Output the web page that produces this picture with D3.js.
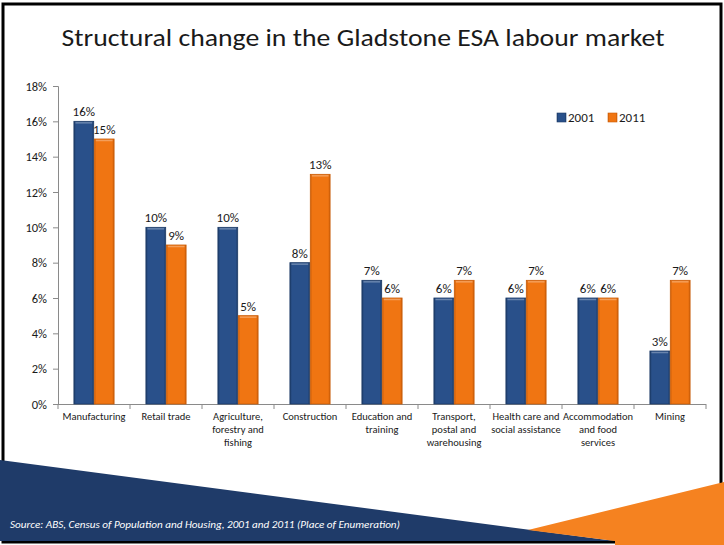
<!DOCTYPE html>
<html>
<head>
<meta charset="utf-8">
<script src="https://cdn.jsdelivr.net/npm/d3@7"></script>
<style>
  html, body { margin: 0; padding: 0; background: #fff; }
  svg { display: block; font-family: Carlito, Calibri, Lato, "Open Sans", sans-serif; }
</style>
</head>
<body>
<svg id="chart" width="724" height="545"></svg>
<script>
// Employment share by industry, Gladstone ESA
const categories = [
  ["Manufacturing"],
  ["Retail trade"],
  ["Agriculture,", "forestry and", "fishing"],
  ["Construction"],
  ["Education and", "training"],
  ["Transport,", "postal and", "warehousing"],
  ["Health care and", "social assistance"],
  ["Accommodation", "and food", "services"],
  ["Mining"]
];
const seriesNames = ["2001", "2011"];
const values2001 = [16, 10, 10, 8, 7, 6, 6, 6, 3];
const values2011 = [15, 9, 5, 13, 6, 7, 7, 6, 7];
const yTicks = [0, 2, 4, 6, 8, 10, 12, 14, 16, 18];

const svg = d3.select("#chart");
const W = 724, H = 545;

const colors = { "2001": "#29508a", "2011": "#f07512" };
const edges  = { "2001": "#1c3a66", "2011": "#c95c08" };

// gradients give the bars their bevelled look
const defs = svg.append("defs");
seriesNames.forEach(s => {
  const g = defs.append("linearGradient").attr("id", "g" + s)
    .attr("x1", 0).attr("x2", 1).attr("y1", 0).attr("y2", 0);
  g.append("stop").attr("offset", 0).attr("stop-color", edges[s]);
  g.append("stop").attr("offset", 0.1).attr("stop-color", colors[s]);
  g.append("stop").attr("offset", 0.9).attr("stop-color", colors[s]);
  g.append("stop").attr("offset", 1).attr("stop-color", edges[s]);
});

// slide background and frame
svg.append("rect").attr("width", W).attr("height", H).attr("fill", "#fff");
svg.append("rect").attr("x", 3).attr("y", 4).attr("width", 718).attr("height", 538)
  .attr("fill", "none").attr("stroke", "#000").attr("stroke-width", 3);

// title
svg.append("text").attr("x", 363).attr("y", 46)
  .attr("text-anchor", "middle").attr("font-size", 25).attr("fill", "#1a1a1a")
  .attr("textLength", 603).attr("lengthAdjust", "spacingAndGlyphs")
  .text("Structural change in the Gladstone ESA labour market");

// plot area
const m = { left: 58, right: 706, top: 86, bottom: 404 };
const x = d3.scaleBand().domain(d3.range(categories.length))
  .range([m.left, m.right]).paddingInner(0).paddingOuter(0);
const xs = d3.scaleBand().domain(seriesNames).range([0, x.bandwidth()])
  .paddingInner(0.03).paddingOuter(0.78);
const y = d3.scaleLinear().domain([0, 18]).range([m.bottom, m.top]);

// y axis
const yAxis = svg.append("g").attr("transform", `translate(${m.left},0)`)
  .call(d3.axisLeft(y).tickValues(yTicks).tickFormat(d => d + "%").tickSize(5).tickPadding(6));
yAxis.select(".domain").attr("stroke", "#8a8a8a");
yAxis.selectAll(".tick line").attr("stroke", "#8a8a8a");
yAxis.selectAll(".tick text").attr("font-size", 12.5).attr("fill", "#1a1a1a")
  .attr("font-family", "Carlito, Calibri, Lato, sans-serif");

// x axis with ticks at category boundaries
const xAxisG = svg.append("g");
xAxisG.append("line").attr("x1", m.left).attr("x2", m.right)
  .attr("y1", m.bottom + 0.5).attr("y2", m.bottom + 0.5).attr("stroke", "#8a8a8a");
xAxisG.selectAll("line.tk").data(d3.range(categories.length + 1)).join("line")
  .attr("class", "tk")
  .attr("x1", i => i < categories.length ? x(i) : m.right)
  .attr("x2", i => i < categories.length ? x(i) : m.right)
  .attr("y1", m.bottom).attr("y2", m.bottom + 5).attr("stroke", "#8a8a8a");

// category labels
const catG = svg.append("g");
categories.forEach((lines, i) => {
  const t = catG.append("text").attr("text-anchor", "middle")
    .attr("font-size", 10.5).attr("fill", "#1a1a1a");
  lines.forEach((ln, j) => {
    t.append("tspan").attr("x", x(i) + x.bandwidth() / 2)
      .attr("y", 420 + j * 13).text(ln);
  });
});

// bars
const rows = [];
categories.forEach((c, i) => {
  rows.push({ i, s: "2001", v: values2001[i] });
  rows.push({ i, s: "2011", v: values2011[i] });
});
const barG = svg.append("g");
barG.selectAll("rect").data(rows).join("rect")
  .attr("x", d => x(d.i) + xs(d.s))
  .attr("y", d => y(d.v))
  .attr("width", xs.bandwidth())
  .attr("height", d => y(0) - y(d.v))
  .attr("fill", d => `url(#g${d.s})`)
  .attr("stroke", d => edges[d.s]).attr("stroke-width", 0.8);
// top highlight
barG.selectAll("line").data(rows).join("line")
  .attr("x1", d => x(d.i) + xs(d.s) + 1.5)
  .attr("x2", d => x(d.i) + xs(d.s) + xs.bandwidth() - 1.5)
  .attr("y1", d => y(d.v) + 1.5).attr("y2", d => y(d.v) + 1.5)
  .attr("stroke", "#fff").attr("stroke-opacity", 0.3).attr("stroke-width", 1.5);

// value labels
svg.append("g").selectAll("text").data(rows).join("text")
  .attr("x", d => x(d.i) + xs(d.s) + xs.bandwidth() / 2)
  .attr("y", d => y(d.v) - 5)
  .attr("text-anchor", "middle").attr("font-size", 13).attr("fill", "#1a1a1a")
  .text(d => d.v + "%");

// legend
const leg = svg.append("g");
seriesNames.forEach((s, k) => {
  const lx = 557 + k * 51;
  leg.append("rect").attr("x", lx).attr("y", 113).attr("width", 9).attr("height", 9)
    .attr("fill", `url(#g${s})`).attr("stroke", edges[s]).attr("stroke-width", 0.6);
  leg.append("text").attr("x", lx + 11).attr("y", 122)
    .attr("font-size", 13).attr("fill", "#1a1a1a").text(s);
});

// footer decoration
svg.append("polygon").attr("points", "0,460 615,541 0,541").attr("fill", "#1f3b69");
svg.append("polygon").attr("points", "528,530 724,482 724,545 615,545 615,541").attr("fill", "#f58220");

svg.append("text").attr("x", 10).attr("y", 528)
  .attr("font-size", 10.5).attr("font-style", "italic").attr("fill", "#fff")
  .attr("textLength", 390).attr("lengthAdjust", "spacingAndGlyphs")
  .text("Source:  ABS, Census of Population and Housing, 2001 and 2011 (Place of  Enumeration)");
</script>
</body>
</html>
